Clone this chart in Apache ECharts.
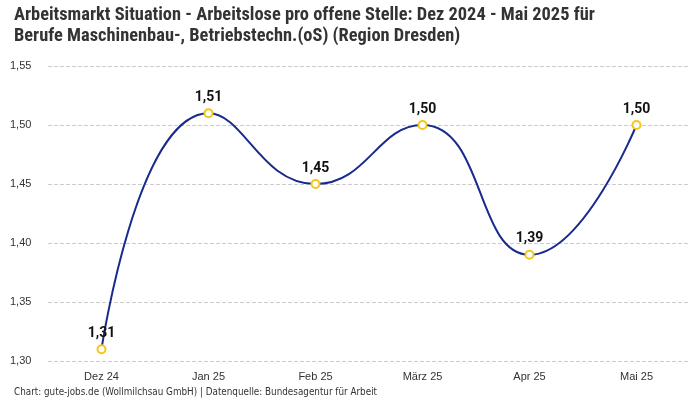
<!DOCTYPE html>
<html><head><meta charset="utf-8">
<script src="https://cdn.jsdelivr.net/npm/echarts@6/dist/echarts.min.js"></script>
<style>html,body{margin:0;padding:0;background:#fff}#c{width:700px;height:400px}</style>
</head><body><div id="c"></div>
<script>
const categories = ['Dez 24','Jan 25','Feb 25','März 25','Apr 25','Mai 25'];
const values = [1.31, 1.51, 1.45, 1.50, 1.39, 1.50];
const titleLines = ['Arbeitsmarkt Situation - Arbeitslose pro offene Stelle: Dez 2024 - Mai 2025 für','Berufe Maschinenbau-, Betriebstechn.(oS) (Region Dresden)'];
const footer = 'Chart: gute-jobs.de (Wollmilchsau GmbH) | Datenquelle: Bundesagentur für Arbeit';
const fmt = v => v.toFixed(2).replace('.', ',');
const chart = echarts.init(document.getElementById('c'));
chart.setOption({
  animation: false,
  title: [{
    text: titleLines.join('\n'), left: 9, top: 0,
    textStyle: {fontFamily: '"Liberation Sans Narrow", "Roboto Condensed", "DejaVu Sans Condensed", sans-serif', fontWeight: 'bold', fontSize: 18.4, lineHeight: 21, color: '#333'}
  }, {
    text: footer, left: 9, bottom: -2,
    textStyle: {fontFamily: '"Liberation Sans Narrow", "DejaVu Sans Condensed", sans-serif', fontWeight: 'normal', fontSize: 9.8, color: '#333'}
  }],
  grid: {left: 48, right: 10, top: 66, bottom: 39},
  xAxis: {
    type: 'category', data: categories, boundaryGap: true,
    axisLine: {show: false}, axisTick: {show: false},
    axisLabel: {margin: 10, fontSize: 11, color: '#333', fontFamily: '"Liberation Sans Narrow", sans-serif'}
  },
  yAxis: {
    type: 'value', min: 1.30, max: 1.55, interval: 0.05,
    axisLabel: {formatter: fmt, align: 'left', margin: 38, fontSize: 11, color: '#333', fontFamily: 'Liberation Sans, sans-serif'},
    splitLine: {lineStyle: {type: 'dashed', color: '#ccc'}}
  },
  series: [{
    type: 'line', data: values, smooth: 0.5,
    lineStyle: {color: '#1a2a8c', width: 2},
    symbol: 'emptyCircle', symbolSize: 8,
    itemStyle: {color: '#f5c518', borderColor: '#f5c518', borderWidth: 2},
    label: {show: true, position: 'top', distance: 4, formatter: p => fmt(p.value), fontSize: 14, fontWeight: 'bold', color: '#111', fontFamily: 'Roboto, sans-serif'}
  }]
});
</script></body></html>
